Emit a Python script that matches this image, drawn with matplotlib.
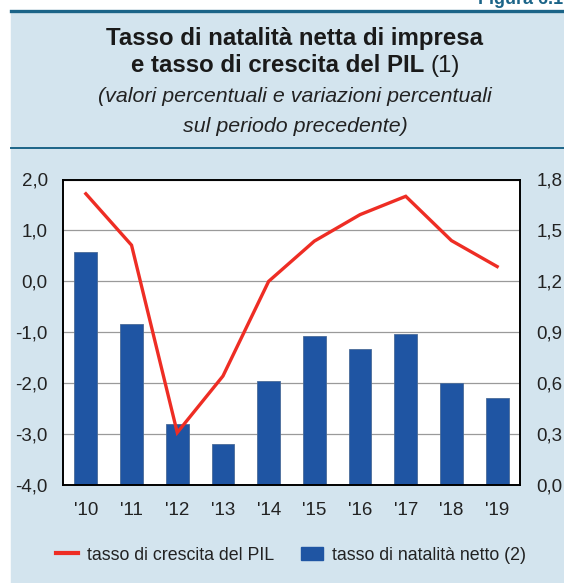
import matplotlib
matplotlib.use("Agg")
import matplotlib.pyplot as plt
from matplotlib.patches import Rectangle, Patch
from matplotlib.lines import Line2D
from matplotlib.ticker import FuncFormatter

plt.rcParams['font.family'] = ['Liberation Sans', 'DejaVu Sans']

# data
years = ["'10", "'11", "'12", "'13", "'14", "'15", "'16", "'17", "'18", "'19"]
pil = [1.72, 0.71, -2.97, -1.86, 0.0, 0.79, 1.31, 1.67, 0.80, 0.29]       # left axis
natalita = [1.37, 0.95, 0.36, 0.24, 0.615, 0.88, 0.80, 0.89, 0.60, 0.515]  # right axis

BG = "#d3e4ee"
DARK = "#1b6488"
RED = "#ee2d24"
BLUE = "#1f55a3"

W, H = 564, 583
fig = plt.figure(figsize=(W / 100, H / 100), dpi=100, facecolor="white")

# panel background + rules
fig.patches.append(Rectangle((11 / W, 0), 1 - 11 / W, 1 - 11 / H,
                             transform=fig.transFigure, color=BG, zorder=-5))
fig.add_artist(Line2D([11 / W, 1], [1 - 10.5 / H] * 2, color=DARK, lw=2.4))
fig.add_artist(Line2D([11 / W, 1], [1 - 148 / H] * 2, color=DARK, lw=1.4))
fig.text(478 / W, 1 - 8 / H, "Figura 6.1", color=DARK, fontsize=13,
         fontweight="bold", ha="left", va="bottom")

# titles
fig.text(295 / W, 1 - 38 / H, "Tasso di natalità netta di impresa",
         fontsize=17.3, fontweight="bold", ha="center", va="center", color="#1a1a1a")
t_bold = fig.text(0, 1 - 66 / H, "e tasso di crescita del PIL ",
                  fontsize=17.3, fontweight="bold", ha="left", va="center", color="#1a1a1a")
t_norm = fig.text(0, 1 - 66 / H, "(1)",
                  fontsize=17.3, ha="left", va="center", color="#1a1a1a")
fig.text(295 / W, 1 - 97 / H, "(valori percentuali e variazioni percentuali",
         fontsize=15.4, style="italic", ha="center", va="center", color="#222222")
fig.text(295 / W, 1 - 126 / H, "sul periodo precedente)",
         fontsize=15.4, style="italic", ha="center", va="center", color="#222222")

# center the mixed-weight second title line
r = fig.canvas.get_renderer()
wb = t_bold.get_window_extent(r).width
wn = t_norm.get_window_extent(r).width
x0 = 295 - (wb + wn) / 2
t_bold.set_x(x0 / W)
t_norm.set_x((x0 + wb) / W)

ax = fig.add_axes([63 / W, 1 - 485 / H, (520 - 63) / W, (485 - 179.5) / H])
ax2 = ax.twinx()

x = list(range(len(years)))

# bars on the right scale, gridlines behind them
ax2.bar(x, natalita, width=0.5, color=BLUE, edgecolor="#4a6c99", linewidth=0.6, zorder=2)
ax2.set_ylim(0, 1.8)
ax2.set_yticks([0, 0.3, 0.6, 0.9, 1.2, 1.5, 1.8])
ax2.grid(axis="y", color="#9a9a9a", lw=0.9, zorder=0)
ax2.set_axisbelow(True)
ax2.patch.set_visible(True)
ax2.patch.set_facecolor("white")

# line on the left scale, above everything
ax.set_zorder(ax2.get_zorder() + 1)
ax.patch.set_visible(False)
ax.plot(x, pil, color=RED, lw=2.4, solid_joinstyle="miter", zorder=3)
ax.set_ylim(-4, 2)
ax.set_yticks([-4, -3, -2, -1, 0, 1, 2])
ax.set_xlim(-0.5, len(years) - 0.5)
ax.set_xticks(x)
ax.set_xticklabels(years)

fmt = FuncFormatter(lambda v, p: f"{v:.1f}".replace(".", ","))
ax.yaxis.set_major_formatter(fmt)
ax2.yaxis.set_major_formatter(fmt)

for a in (ax, ax2):
    a.tick_params(length=0, labelsize=13.5, labelcolor="#222222")
    for s in a.spines.values():
        s.set_color("black")
        s.set_linewidth(1.2)
ax.tick_params(axis="y", pad=11)
ax.tick_params(axis="x", pad=12)
ax2.tick_params(axis="y", pad=12)

handles = [Line2D([0], [0], color=RED, lw=3),
           Patch(facecolor=BLUE, edgecolor=BLUE)]
fig.legend(handles, ["tasso di crescita del PIL", "tasso di natalità netto (2)"],
           loc="center", bbox_to_anchor=(291 / W, 1 - 555 / H), ncol=2, frameon=False,
           fontsize=12.8, handlelength=1.25, handletextpad=0.5, columnspacing=1.5,
           labelcolor="#222222")

fig.savefig("out.png", dpi=100, facecolor=fig.get_facecolor())
